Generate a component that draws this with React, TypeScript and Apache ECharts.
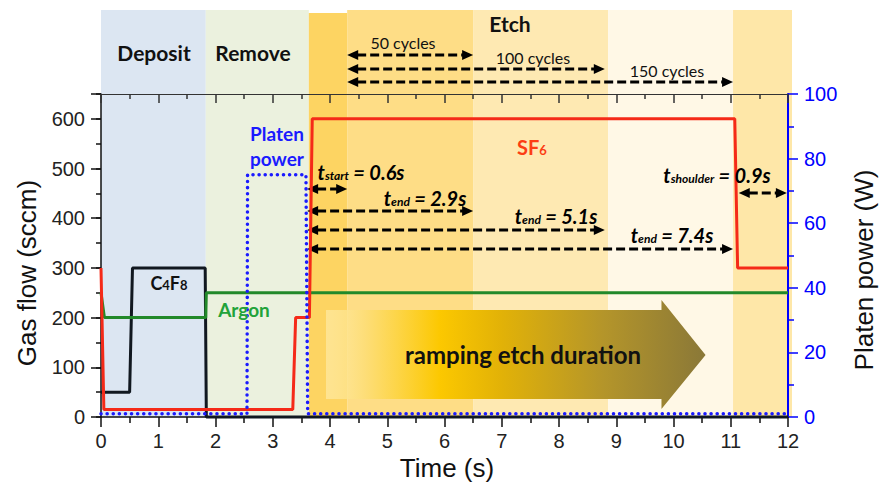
import React, { useEffect, useRef } from 'react';
import * as echarts from 'echarts';

// ---------- data ----------
// time (s) / gas flow (sccm) points of each step profile
const c4f8Time = [0, 0.5, 0.55, 1.82, 1.84, 12];
const c4f8Flow = [50, 50, 300, 300, 0, 0];
const sf6Time = [0, 0.05, 3.35, 3.4, 3.64, 3.69, 11.07, 11.12, 12];
const sf6Flow = [300, 15, 15, 200, 200, 600, 600, 300, 300];
const argonTime = [0, 0.06, 1.83, 1.84, 12];
const argonFlow = [250, 200, 200, 250, 250];
// time (s) / platen power (W)
const platenTime = [0, 2.55, 2.56, 3.58, 3.61, 12];
const platenPower = [1, 1, 75, 75, 1, 1];

// phase boundaries (s): deposit, remove, etch sub-windows
const phaseBounds = [0, 1.83, 3.63, 4.3, 6.5, 8.86, 11.04, 12.07];
const phaseNames = ['Deposit', 'Remove', 'Etch'];
// cycle arrows: all start at 4.3 s
const cycleStart = 4.3;
const cycleEnds = [6.5, 8.8, 11.04];
const cycleLabels = ['50 cycles', '100 cycles', '150 cycles'];
// t_start / t_end arrows: all start at 3.6 s
const etchStart = 3.6;
const etchEnds = [4.3, 6.5, 8.8, 11.04];
const etchEndLabels = ['0.6s', '2.9s', '5.1s', '7.4s'];
const shoulderStart = 11.14;
const shoulderEnd = 11.98;
const shoulderLabel = '0.9s';

const timeTicks = { min: 0, max: 12, step: 1 };
const flowTicks = { min: 0, max: 650, step: 100 };
const powerTicks = { min: 0, max: 100, step: 20 };

// ---------- layout / style ----------
const GL = 101, GT = 94, GW = 687, GH = 323;
const phaseColors = ['#dce6f2', '#ebf1de', '#fdd462', '#fedd86', '#fee9b2', '#fff8e6', '#fee7a8'];
const FONT_AX = 'Liberation Sans, Arial, sans-serif';
const FONT_AN = 'Lato, "Open Sans", sans-serif';

const zip = (a: number[], b: number[]) => a.map((v, i) => [v, b[i]]);
const px = (t: number) => GL + ((t - timeTicks.min) / (timeTicks.max - timeTicks.min)) * GW;

function dashedArrow(x1: number, x2: number, y: number, leftHead: boolean, rightHead: boolean) {
  const hl = 11, hw = 5;
  const children: any[] = [];
  const a = leftHead ? x1 + hl - 1 : x1;
  const b = rightHead ? x2 - hl + 1 : x2;
  children.push({
    type: 'line',
    shape: { x1: a, y1: y, x2: b, y2: y },
    style: { stroke: '#000', lineWidth: 3, lineDash: [9, 4] },
  });
  if (leftHead)
    children.push({
      type: 'polygon',
      shape: { points: [[x1, y], [x1 + hl, y - hw], [x1 + hl, y + hw]] },
      style: { fill: '#000' },
    });
  if (rightHead)
    children.push({
      type: 'polygon',
      shape: { points: [[x2, y], [x2 - hl, y - hw], [x2 - hl, y + hw]] },
      style: { fill: '#000' },
    });
  return { type: 'group', z: 20, children };
}

function txt(text: string, x: number, y: number, style: any, rotation = 0, z = 20) {
  return {
    type: 'text',
    x,
    y,
    rotation,
    z,
    style: { text, align: 'center', verticalAlign: 'middle', ...style },
  };
}

const tRich = {
  t: { fontFamily: FONT_AN, fontSize: 20, fontWeight: 'bold', fontStyle: 'italic', fill: '#000' },
  s: { fontFamily: FONT_AN, fontSize: 12, fontWeight: 'bold', fontStyle: 'italic', fill: '#000', padding: [6, 0, 0, 0] },
};

export default function App() {
  const ref = useRef<HTMLDivElement>(null);
  useEffect(() => {
    if (!ref.current) return;
    const chart = echarts.init(ref.current, undefined, { renderer: 'svg' });
    const graphics: any[] = [];

    // phase bands (extend above the plot)
    for (let i = 0; i < phaseBounds.length - 1; i++) {
      const x1 = px(phaseBounds[i]);
      const x2 = px(phaseBounds[i + 1]);
      const top = i === 2 ? 13 : 10;
      graphics.push({
        type: 'rect',
        z: -5,
        shape: { x: x1, y: top, width: x2 - x1, height: GT + GH - top },
        style: { fill: phaseColors[i] },
      });
    }

    // ramping etch duration gradient arrow
    const ax1 = px(3.93), ax2 = px(9.79), axTip = px(10.56);
    graphics.push({
      type: 'polygon',
      z: 1,
      shape: {
        points: [
          [ax1, 310], [ax2, 310], [ax2, 300], [axTip, 355], [ax2, 409], [ax2, 399], [ax1, 399],
        ],
      },
      style: {
        fill: new echarts.graphic.LinearGradient(0, 0, 1, 0, [
          { offset: 0, color: 'rgba(255,236,170,0.65)' },
          { offset: 0.1, color: 'rgba(253,222,120,0.9)' },
          { offset: 0.3, color: '#fcc800' },
          { offset: 0.46, color: '#e2b207' },
          { offset: 0.73, color: '#b4952a' },
          { offset: 1, color: '#8a7838' },
        ]),
      },
    });
    graphics.push(txt('ramping etch duration', 523, 354, { fontFamily: FONT_AN, fontSize: 24, fontWeight: 'bold', fill: '#111' }));

    // phase titles
    graphics.push(txt(phaseNames[0], 154, 52, { fontFamily: FONT_AN, fontSize: 21, fontWeight: 'bold', fill: '#111' }));
    graphics.push(txt(phaseNames[1], 253, 52, { fontFamily: FONT_AN, fontSize: 21, fontWeight: 'bold', fill: '#111' }));
    graphics.push(txt(phaseNames[2], 510, 23, { fontFamily: FONT_AN, fontSize: 21, fontWeight: 'bold', fill: '#111' }));

    // cycle arrows
    const cycleY = [55, 69, 82];
    const cycleLabelPos = [[403, 42], [533, 57], [667, 70]];
    cycleEnds.forEach((e, i) => {
      graphics.push(dashedArrow(px(cycleStart), px(e), cycleY[i], true, true));
      graphics.push(txt(cycleLabels[i], cycleLabelPos[i][0], cycleLabelPos[i][1], { fontFamily: FONT_AN, fontSize: 16, fill: '#111' }));
    });

    // t_start / t_end arrows
    const tY = [189, 211, 230, 249];
    const tLabelPos = [[361, 172], [425, 198], [556, 216], [672, 235]];
    etchEnds.forEach((e, i) => {
      graphics.push(dashedArrow(px(etchStart), px(e), tY[i], true, true));
      const sub = i === 0 ? 'start' : 'end';
      graphics.push(
        txt(`{t|t}{s|${sub}}{t| = ${etchEndLabels[i]}}`, tLabelPos[i][0], tLabelPos[i][1], { rich: tRich })
      );
    });
    graphics.push(dashedArrow(px(shoulderStart), px(shoulderEnd), 193, true, true));
    graphics.push(txt(`{t|t}{s|shoulder}{t| = ${shoulderLabel}}`, 717, 175, { rich: tRich }));

    // series labels
    graphics.push(txt('Platen', 277, 133, { fontFamily: FONT_AN, fontSize: 19, fontWeight: 'bold', fill: '#1a1aff' }));
    graphics.push(txt('power', 277, 158, { fontFamily: FONT_AN, fontSize: 19, fontWeight: 'bold', fill: '#1a1aff' }));
    graphics.push(
      txt('{a|SF}{b|6}', 532, 147, {
        rich: {
          a: { fontFamily: FONT_AN, fontSize: 20, fontWeight: 'bold', fill: '#fc3d14' },
          b: { fontFamily: FONT_AN, fontSize: 13, fontWeight: 'bold', fill: '#fc3d14', padding: [5, 0, 0, 0] },
        },
      })
    );
    graphics.push(
      txt('{a|C}{b|4}{a|F}{b|8}', 169, 283, {
        rich: {
          a: { fontFamily: FONT_AN, fontSize: 18, fontWeight: 'bold', fill: '#111' },
          b: { fontFamily: FONT_AN, fontSize: 13, fontWeight: 'bold', fill: '#111', padding: [4, 0, 0, 0] },
        },
      })
    );
    graphics.push(txt('Argon', 244, 309, { fontFamily: FONT_AN, fontSize: 19, fontWeight: 'bold', fill: '#22a33a' }));

    // axis titles
    graphics.push(txt('Gas flow (sccm)', 27, 273, { fontFamily: FONT_AX, fontSize: 26, fill: '#111' }, Math.PI / 2));
    graphics.push(txt('Platen power (W)', 864, 270, { fontFamily: FONT_AX, fontSize: 26, fill: '#111' }, Math.PI / 2));
    graphics.push(txt('Time (s)', 447, 468, { fontFamily: FONT_AX, fontSize: 26, fill: '#111' }));

    const black = '#111';
    const option: any = {
      animation: false,
      grid: { left: GL, top: GT, width: GW, height: GH, containLabel: false },
      xAxis: [
        {
          type: 'value', min: timeTicks.min, max: timeTicks.max, interval: timeTicks.step, position: 'bottom',
          axisLine: { onZero: false, lineStyle: { color: black, width: 1.5 } },
          axisTick: { length: 10, lineStyle: { color: black, width: 1.5 } },
          minorTick: { show: true, splitNumber: 2, length: 6, lineStyle: { color: black, width: 1.5 } },
          axisLabel: { fontFamily: FONT_AX, fontSize: 20, color: '#222', margin: 14 },
          splitLine: { show: false },
          minorSplitLine: { show: false },
        },
        {
          type: 'value', min: timeTicks.min, max: timeTicks.max, interval: timeTicks.step, position: 'top',
          axisLine: { onZero: false, lineStyle: { color: '#333', width: 1.2 } },
          axisTick: { inside: true, length: 9, lineStyle: { color: '#333', width: 1.5 } },
          minorTick: { show: true, splitNumber: 2, length: 5, lineStyle: { color: '#333', width: 1.5 } },
          axisLabel: { show: false },
          splitLine: { show: false },
          minorSplitLine: { show: false },
        },
      ],
      yAxis: [
        {
          type: 'value', min: flowTicks.min, max: flowTicks.max, interval: flowTicks.step, position: 'left',
          axisLine: { show: true, onZero: false, lineStyle: { color: black, width: 1.5 } },
          axisTick: { show: true, length: 10, lineStyle: { color: black, width: 1.5 } },
          axisLabel: {
            fontFamily: FONT_AX, fontSize: 20, color: '#222', margin: 16,
            formatter: (v: number) => (v > 600 ? '' : String(v)),
          },
          splitLine: { show: false },
        },
        {
          type: 'value', min: powerTicks.min, max: powerTicks.max, interval: powerTicks.step, position: 'right',
          axisLine: { show: true, onZero: false, lineStyle: { color: '#0000ff', width: 2 } },
          axisTick: { show: true, length: 10, lineStyle: { color: '#0000ff', width: 1.5 } },
          minorTick: { show: true, splitNumber: 2, length: 6, lineStyle: { color: '#0000ff', width: 1.5 } },
          axisLabel: { fontFamily: FONT_AX, fontSize: 20, color: '#0000ff', margin: 16 },
          splitLine: { show: false },
          minorSplitLine: { show: false },
        },
        {
          type: 'value', min: flowTicks.min, max: flowTicks.max, interval: flowTicks.step / 2, position: 'left',
          axisLine: { show: false },
          axisTick: { show: true, length: 5, lineStyle: { color: black, width: 1.5 } },
          axisLabel: { show: false },
          splitLine: { show: false },
        },
      ],
      series: [
        {
          name: 'C4F8', type: 'line', xAxisIndex: 0, yAxisIndex: 0, data: zip(c4f8Time, c4f8Flow),
          showSymbol: false, symbol: 'none', clip: false, z: 3,
          lineStyle: { color: '#111820', width: 3 },
        },
        {
          name: 'Argon', type: 'line', xAxisIndex: 0, yAxisIndex: 0, data: zip(argonTime, argonFlow),
          showSymbol: false, symbol: 'none', clip: false, z: 3,
          lineStyle: { color: '#22892a', width: 3 },
        },
        {
          name: 'SF6', type: 'line', xAxisIndex: 0, yAxisIndex: 0, data: zip(sf6Time, sf6Flow),
          showSymbol: false, symbol: 'none', clip: false, z: 4,
          lineStyle: { color: '#f52a18', width: 3 },
        },
        {
          name: 'Platen power', type: 'line', xAxisIndex: 0, yAxisIndex: 1, data: zip(platenTime, platenPower),
          showSymbol: false, symbol: 'none', clip: false, z: 5,
          lineStyle: { color: '#1a1aff', width: 3.5, type: [0.1, 6], cap: 'round' },
        },
      ],
      graphic: { elements: graphics },
    };
    chart.setOption(option);
    return () => chart.dispose();
  }, []);

  return (
    <div
      ref={ref}
      style={{ position: 'fixed', left: 0, top: 0, width: 880, height: 483, background: '#fff' }}
    />
  );
}
